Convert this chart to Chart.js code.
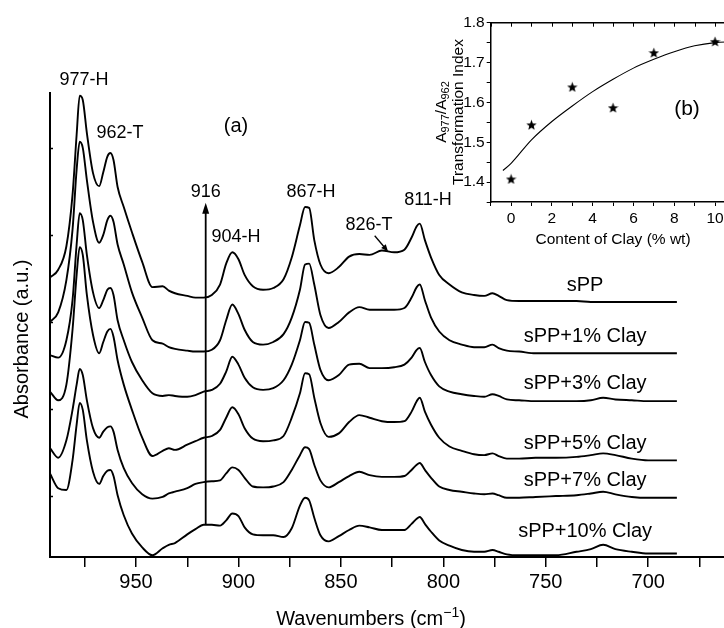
<!DOCTYPE html>
<html lang="en">
<head>
<meta charset="UTF-8" />
<title>FTIR spectra of sPP / clay</title>
<script src="https://cdn.jsdelivr.net/npm/chart.js"></script>
<style>
  html, body { margin: 0; padding: 0; overflow: hidden; background: #fff; }
  #wrap { position: relative; width: 724px; height: 628px; overflow: hidden; }
  #spectra { position: absolute; left: 0; top: 0; }
  #ratio { position: absolute; left: 420px; top: 0; }
</style>
</head>
<body>
<div id="wrap">
  <canvas id="spectra" width="724" height="628"></canvas>
  <canvas id="ratio" width="340" height="270"></canvas>
</div>
<script>
// ---- spectra (a): stacked absorbance, arbitrary units ----
const wavenumbers = [992, 988, 984, 981, 979, 977.5, 976, 974, 971, 968, 966, 964, 962.5, 961, 959, 956, 952, 947, 942, 937,
  934, 931, 925, 921, 917, 913, 909, 906, 903, 900, 897, 893, 888, 883, 878, 874, 870, 867.5, 865.5, 863,
  860, 856, 851, 846, 841, 836, 830, 824, 819, 815.5, 813, 811.5, 809, 806, 802, 797, 791, 785, 780, 776,
  773, 769, 763, 755, 745, 735, 728, 722, 716, 708, 700, 686];

const sPP = [2.51, 2.60, 2.87, 3.46, 4.15, 4.60, 4.55, 4.17, 3.71, 3.56, 3.72, 3.90, 3.94, 3.86, 3.55, 3.32, 3.03, 2.69, 2.40, 2.41,
  2.36, 2.33, 2.30, 2.28, 2.28, 2.31, 2.43, 2.67, 2.80, 2.72, 2.54, 2.41, 2.37, 2.39, 2.49, 2.74, 3.11, 3.32, 3.31, 2.94,
  2.66, 2.56, 2.63, 2.75, 2.78, 2.77, 2.82, 2.80, 2.83, 2.97, 3.10, 3.13, 2.94, 2.74, 2.54, 2.43, 2.34, 2.31, 2.30, 2.33,
  2.30, 2.25, 2.24, 2.24, 2.24, 2.24, 2.23, 2.23, 2.23, 2.23, 2.23, 2.23];
const clay1 = [2.00, 2.11, 2.48, 3.06, 3.75, 4.07, 4.00, 3.63, 3.15, 2.91, 3.00, 3.17, 3.22, 3.15, 2.89, 2.66, 2.34, 2.05, 1.79, 1.75,
  1.71, 1.69, 1.67, 1.66, 1.66, 1.68, 1.79, 2.02, 2.20, 2.09, 1.91, 1.77, 1.74, 1.77, 1.86, 2.05, 2.37, 2.66, 2.67, 2.43,
  2.08, 1.93, 2.00, 2.11, 2.17, 2.14, 2.14, 2.14, 2.16, 2.28, 2.40, 2.43, 2.25, 2.05, 1.89, 1.79, 1.74, 1.71, 1.71, 1.74,
  1.70, 1.67, 1.66, 1.64, 1.64, 1.64, 1.64, 1.64, 1.64, 1.64, 1.64, 1.64];
const clay3 = [1.62, 1.59, 1.79, 2.25, 2.89, 3.25, 3.17, 2.77, 2.34, 2.16, 2.25, 2.37, 2.39, 2.31, 2.02, 1.79, 1.54, 1.33, 1.18, 1.15,
  1.16, 1.15, 1.14, 1.16, 1.20, 1.22, 1.29, 1.43, 1.60, 1.51, 1.36, 1.25, 1.22, 1.24, 1.33, 1.51, 1.79, 2.00, 1.99, 1.74,
  1.45, 1.33, 1.39, 1.51, 1.52, 1.47, 1.47, 1.48, 1.51, 1.59, 1.68, 1.70, 1.54, 1.39, 1.26, 1.20, 1.17, 1.15, 1.14, 1.17,
  1.15, 1.11, 1.10, 1.09, 1.09, 1.09, 1.10, 1.13, 1.11, 1.10, 1.09, 1.09];
const clay5 = [1.20, 1.10, 1.28, 1.91, 2.54, 2.86, 2.77, 2.31, 1.85, 1.64, 1.77, 1.89, 1.92, 1.83, 1.56, 1.28, 0.99, 0.67, 0.46, 0.52,
  0.55, 0.53, 0.59, 0.63, 0.67, 0.69, 0.76, 0.90, 1.02, 0.94, 0.78, 0.66, 0.63, 0.64, 0.69, 0.90, 1.18, 1.41, 1.40, 1.13,
  0.84, 0.68, 0.72, 0.85, 0.93, 0.90, 0.86, 0.85, 0.86, 0.97, 1.09, 1.13, 0.97, 0.82, 0.67, 0.57, 0.52, 0.48, 0.47, 0.49,
  0.46, 0.43, 0.43, 0.44, 0.44, 0.45, 0.47, 0.49, 0.47, 0.43, 0.41, 0.41];
const clay7 = [0.55, 0.44, 0.64, 0.99, 1.28, 1.46, 1.39, 1.10, 0.78, 0.67, 0.74, 0.79, 0.80, 0.74, 0.53, 0.32, 0.15, 0.02, -0.03, -0.01,
  0.03, 0.05, 0.09, 0.14, 0.16, 0.17, 0.18, 0.26, 0.33, 0.30, 0.21, 0.11, 0.10, 0.11, 0.16, 0.30, 0.47, 0.56, 0.54, 0.36,
  0.18, 0.10, 0.16, 0.23, 0.28, 0.24, 0.22, 0.22, 0.23, 0.30, 0.36, 0.38, 0.30, 0.21, 0.11, 0.07, 0.05, 0.03, 0.02, 0.03,
  0.01, -0.02, -0.02, -0.01, 0.00, 0.01, 0.03, 0.05, 0.02, -0.01, -0.02, -0.02];
const clay10 = [0.26, 0.09, 0.07, 0.41, 0.82, 1.07, 0.99, 0.64, 0.28, 0.14, 0.23, 0.29, 0.30, 0.23, 0.01, -0.22, -0.43, -0.59, -0.68, -0.60,
  -0.56, -0.54, -0.44, -0.38, -0.33, -0.33, -0.34, -0.28, -0.20, -0.23, -0.36, -0.44, -0.45, -0.45, -0.47, -0.37, -0.11, -0.02, -0.05, -0.25,
  -0.45, -0.52, -0.46, -0.39, -0.34, -0.36, -0.39, -0.39, -0.39, -0.32, -0.26, -0.24, -0.32, -0.41, -0.51, -0.57, -0.62, -0.64, -0.64, -0.62,
  -0.64, -0.67, -0.68, -0.68, -0.68, -0.64, -0.61, -0.56, -0.61, -0.64, -0.66, -0.66];

const seriesNames = ['sPP', 'sPP+1% Clay', 'sPP+3% Clay', 'sPP+5% Clay', 'sPP+7% Clay', 'sPP+10% Clay'];
const wavenumberTicks = [675, 700, 725, 750, 775, 800, 825, 850, 875, 900, 925, 950, 975];
const absorbanceTicks = [0, 1, 2, 3, 4];

// ---- inset (b): A977/A962 ratio vs clay content ----
const clayContent = [0, 1, 3, 5, 7, 10];
const transformationIndex = [1.408, 1.544, 1.639, 1.587, 1.725, 1.753];
const fitContent = [-0.4, 0, 1, 2, 3, 4, 5, 6, 7, 8, 9, 10, 10.8];
const fitIndex = [1.429, 1.447, 1.506, 1.552, 1.591, 1.627, 1.658, 1.686, 1.708, 1.727, 1.742, 1.750, 1.752];
const contentTicks = [-1, 0, 1, 2, 3, 4, 5, 6, 7, 8, 9, 10, 11];
const indexTicks = [1.35, 1.4, 1.45, 1.5, 1.55, 1.6, 1.65, 1.7, 1.75, 1.8];

const FONT = "'Liberation Sans', Arial, Helvetica, sans-serif";
const spectra = [sPP, clay1, clay3, clay5, clay7, clay10];

// draws a run of text pieces (normal / sub / superscript) starting at x
function drawPieces(ctx, pieces, x, y, align) {
  let total = 0;
  pieces.forEach(p => { ctx.font = `${p.size}px ${FONT}`; p.w = ctx.measureText(p.t).width; total += p.w; });
  let cx = align === 'center' ? x - total / 2 : x;
  ctx.textAlign = 'left';
  pieces.forEach(p => {
    ctx.font = `${p.size}px ${FONT}`;
    ctx.fillText(p.t, cx, y + (p.dy || 0));
    cx += p.w;
  });
}

function arrowHead(ctx, tipX, tipY, fromX, fromY, len, half) {
  const a = Math.atan2(tipY - fromY, tipX - fromX);
  ctx.beginPath();
  ctx.moveTo(tipX, tipY);
  ctx.lineTo(tipX - len * Math.cos(a) + half * Math.sin(a), tipY - len * Math.sin(a) - half * Math.cos(a));
  ctx.lineTo(tipX - len * Math.cos(a) - half * Math.sin(a), tipY - len * Math.sin(a) + half * Math.cos(a));
  ctx.closePath();
  ctx.fill();
}

const spectraNotes = {
  id: 'spectraNotes',
  afterDraw(chart) {
    const {ctx, chartArea: area, scales: {x, y}} = chart;
    ctx.save();
    ctx.strokeStyle = '#000';
    ctx.fillStyle = '#000';

    // short inward ticks on the absorbance axis (no labels)
    ctx.lineWidth = 1.5;
    absorbanceTicks.forEach(v => {
      const py = Math.round(y.getPixelForValue(v)) + 0.5;
      ctx.beginPath();
      ctx.moveTo(area.left, py);
      ctx.lineTo(area.left + 3, py);
      ctx.stroke();
    });

    // vertical arrow marking 916 cm-1
    const ax = x.getPixelForValue(916);
    const aBottom = y.getPixelForValue(clay10[wavenumbers.indexOf(917)]);
    const aTop = y.getPixelForValue(3.37);
    ctx.lineWidth = 1.8;
    ctx.beginPath();
    ctx.moveTo(ax, aBottom);
    ctx.lineTo(ax, aTop + 6);
    ctx.stroke();
    arrowHead(ctx, ax, aTop, ax, aBottom, 11, 3.5);

    // pointer to the 826 shoulder
    const sx = x.getPixelForValue(833.5), sy = y.getPixelForValue(2.99);
    const tx = x.getPixelForValue(827), ty = y.getPixelForValue(2.81);
    ctx.lineWidth = 1.3;
    ctx.beginPath();
    ctx.moveTo(sx, sy);
    ctx.lineTo(tx - (tx - sx) * 0.3, ty - (ty - sy) * 0.3);
    ctx.stroke();
    arrowHead(ctx, tx, ty, sx, sy, 7, 3);

    // peak assignments
    ctx.textAlign = 'center';
    ctx.textBaseline = 'middle';
    ctx.font = `18px ${FONT}`;
    [['977-H', 975.4, 4.78], ['962-T', 957.8, 4.17], ['916', 916, 3.49], ['904-H', 901.2, 2.97],
     ['867-H', 864.6, 3.49], ['826-T', 836.3, 3.11], ['811-H', 807.5, 3.40]].forEach(([t, wn, v]) => {
      ctx.fillText(t, x.getPixelForValue(wn), y.getPixelForValue(v));
    });
    ctx.font = `20px ${FONT}`;
    ctx.fillText('(a)', x.getPixelForValue(901.2), y.getPixelForValue(4.24));

    // sample names above the tail of each trace
    const nameX = x.getPixelForValue(730.8);
    const lift = [16, 17, 18, 17, 17, 22];
    spectra.forEach((s, i) => {
      ctx.fillText(seriesNames[i], nameX, y.getPixelForValue(s[s.length - 1]) - lift[i]);
    });

    // axis titles
    ctx.textBaseline = 'alphabetic';
    drawPieces(ctx, [
      {t: 'Wavenumbers (cm', size: 20},
      {t: '\u22121', size: 14, dy: -8},
      {t: ')', size: 20}
    ], 371, 625, 'center');
    ctx.translate(28, 339);
    ctx.rotate(-Math.PI / 2);
    ctx.textAlign = 'center';
    ctx.font = `20px ${FONT}`;
    ctx.fillText('Absorbance (a.u.)', 0, 0);
    ctx.restore();
  }
};

new Chart(document.getElementById('spectra'), {
  type: 'line',
  data: {
    datasets: spectra.map((s, i) => ({
      label: seriesNames[i],
      data: wavenumbers.map((w, j) => ({x: w, y: s[j]})),
      borderColor: '#000',
      borderWidth: 1.9,
      pointRadius: 0,
      fill: false,
      cubicInterpolationMode: 'monotone'
    }))
  },
  options: {
    responsive: false,
    animation: false,
    layout: {padding: {top: 93, right: 0, left: 0, bottom: 0}},
    plugins: {legend: {display: false}, tooltip: {enabled: false}},
    scales: {
      x: {
        type: 'linear',
        reverse: true,
        min: 663,
        max: 992,
        afterBuildTicks: s => { s.ticks = wavenumberTicks.map(v => ({value: v})); },
        afterFit: s => { s.height = 71; },
        ticks: {
          autoSkip: false,
          maxRotation: 0,
          padding: 3,
          color: '#000',
          font: {family: FONT, size: 20},
          callback: v => (v % 50 === 0 ? String(v) : '')
        },
        grid: {drawOnChartArea: false, drawTicks: true, tickLength: 10, color: '#000', lineWidth: 1.5},
        border: {display: true, color: '#000', width: 2}
      },
      y: {
        min: -0.70,
        max: 4.63,
        afterBuildTicks: s => { s.ticks = absorbanceTicks.map(v => ({value: v})); },
        afterFit: s => { s.width = 50; },
        ticks: {display: false},
        grid: {display: false},
        border: {display: true, color: '#000', width: 2}
      }
    }
  },
  plugins: [spectraNotes]
});

// filled five-point star used as the point marker
function starMarker(size) {
  const c = document.createElement('canvas');
  c.width = size;
  c.height = size;
  const g = c.getContext('2d');
  const R = size / 2, r = R * 0.42;
  g.beginPath();
  for (let i = 0; i < 10; i++) {
    const a = -Math.PI / 2 + i * Math.PI / 5;
    const rad = i % 2 ? r : R;
    g.lineTo(R + rad * Math.cos(a), R + 0.6 + rad * Math.sin(a));
  }
  g.closePath();
  g.fillStyle = '#000';
  g.fill();
  return c;
}

const ratioNotes = {
  id: 'ratioNotes',
  afterDraw(chart) {
    const {ctx, chartArea: area, scales: {x}} = chart;
    ctx.save();
    ctx.strokeStyle = '#000';
    ctx.fillStyle = '#000';
    ctx.lineWidth = 1.5;
    // frame top and right
    ctx.beginPath();
    ctx.moveTo(area.left, area.top);
    ctx.lineTo(area.right, area.top);
    ctx.lineTo(area.right, area.bottom);
    ctx.stroke();
    ctx.lineWidth = 1;
    contentTicks.forEach(v => {
      const px = Math.round(x.getPixelForValue(v)) + 0.5;
      ctx.beginPath();
      ctx.moveTo(px, area.top);
      ctx.lineTo(px, area.top + 4);
      ctx.stroke();
    });

    ctx.textBaseline = 'middle';
    ctx.textAlign = 'center';
    ctx.font = `21px ${FONT}`;
    ctx.fillText('(b)', 267, 109);

    // y title: two rotated lines
    ctx.translate(0, 112);
    ctx.rotate(-Math.PI / 2);
    ctx.textBaseline = 'alphabetic';
    drawPieces(ctx, [
      {t: 'A', size: 15.5},
      {t: '977', size: 11, dy: 3},
      {t: '/A', size: 15.5},
      {t: '962', size: 11, dy: 3}
    ], 0, 26, 'center');
    ctx.textAlign = 'center';
    ctx.font = `15.5px ${FONT}`;
    ctx.fillText('Transformation Index', 0, 43);
    ctx.restore();
  }
};

new Chart(document.getElementById('ratio'), {
  data: {
    datasets: [
      {
        type: 'line',
        data: fitContent.map((c, i) => ({x: c, y: fitIndex[i]})),
        borderColor: '#000',
        borderWidth: 1.1,
        pointRadius: 0,
        fill: false,
        cubicInterpolationMode: 'monotone'
      },
      {
        type: 'scatter',
        data: clayContent.map((c, i) => ({x: c, y: transformationIndex[i]})),
        pointStyle: starMarker(11),
        pointRadius: 5.5
      }
    ]
  },
  options: {
    responsive: false,
    animation: false,
    layout: {padding: {top: 22.7, right: 24.6, left: 0, bottom: 0}},
    plugins: {legend: {display: false}, tooltip: {enabled: false}},
    scales: {
      x: {
        type: 'linear',
        min: -1,
        max: 11,
        afterBuildTicks: s => { s.ticks = contentTicks.map(v => ({value: v})); },
        afterFit: s => { s.height = 68; },
        ticks: {
          autoSkip: false,
          maxRotation: 0,
          padding: 3,
          color: '#000',
          font: {family: FONT, size: 15.5},
          callback: v => (v >= 0 && v <= 10 && v % 2 === 0 ? String(v) : '')
        },
        grid: {drawOnChartArea: false, tickLength: 4, color: '#000', lineWidth: 1},
        border: {display: true, color: '#000', width: 1.5},
        title: {
          display: true,
          text: 'Content of Clay (% wt)',
          color: '#000',
          font: {family: FONT, size: 15.5},
          padding: {top: 0, bottom: 21}
        }
      },
      y: {
        min: 1.35,
        max: 1.8,
        afterBuildTicks: s => { s.ticks = indexTicks.map(v => ({value: v})); },
        afterFit: s => { s.width = 70.7; },
        ticks: {
          autoSkip: false,
          padding: 2,
          color: '#000',
          font: {family: FONT, size: 15.5},
          callback: v => (Math.round(v * 100) % 10 === 0 ? v.toFixed(1) : '')
        },
        grid: {drawOnChartArea: false, tickLength: 4, color: '#000', lineWidth: 1},
        border: {display: true, color: '#000', width: 1.5}
      }
    }
  },
  plugins: [ratioNotes]
});
</script>
</body>
</html>
